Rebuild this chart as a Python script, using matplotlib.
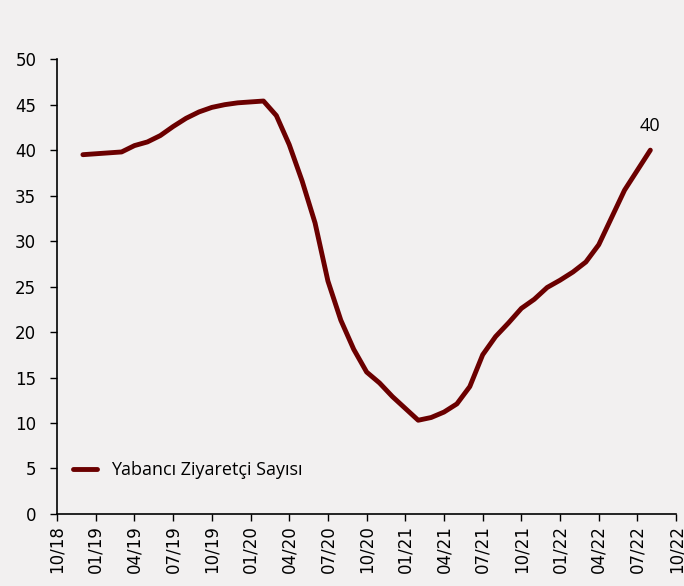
import matplotlib
matplotlib.use("Agg")
import matplotlib.pyplot as plt

# aylik seri, indeks 0 = 10/18
start_index = 2  # 12/18
values = [
    39.5, 39.6, 39.7, 39.8, 40.5, 40.9, 41.6, 42.6, 43.5, 44.2,
    44.7, 45.0, 45.2, 45.3, 45.4, 43.8, 40.6, 36.6, 32.0, 25.6,
    21.3, 18.1, 15.6, 14.4, 12.9, 11.6, 10.3, 10.6, 11.2, 12.1,
    14.0, 17.5, 19.5, 21.0, 22.6, 23.6, 24.9, 25.7, 26.6, 27.7,
    29.6, 32.6, 35.6, 37.8, 40.0,
]
tick_labels = [
    "10/18", "01/19", "04/19", "07/19", "10/19", "01/20", "04/20", "07/20",
    "10/20", "01/21", "04/21", "07/21", "10/21", "01/22", "04/22", "07/22", "10/22",
]
series_name = "Yabancı Ziyaretçi Sayısı"
end_label = "40"

bg = "#f2f0f0"
line_color = "#6b0000"

fig = plt.figure(figsize=(6.84, 5.86), dpi=100, facecolor=bg)
ax = fig.add_axes([0.0835, 0.123, 0.905, 0.776], facecolor=bg)

x = list(range(start_index, start_index + len(values)))
ax.plot(x, values, color=line_color, lw=3.5, solid_capstyle="round",
        solid_joinstyle="round", label=series_name)

ax.annotate(end_label, (x[-1], values[-1]), xytext=(0, 11),
            textcoords="offset points", ha="center", va="bottom",
            fontsize=13, family="Open Sans")

ax.set_xlim(0, 48)
ax.set_ylim(0, 50)
ax.set_xticks(range(0, 49, 3))
ax.set_xticklabels(tick_labels, rotation=90, fontsize=12)
ax.set_yticks(range(0, 51, 5))
ax.tick_params(axis="y", labelsize=12, length=5, width=1, pad=10)
ax.tick_params(axis="x", length=5, width=1, pad=3)

for side in ("top", "right"):
    ax.spines[side].set_visible(False)
for side in ("left", "bottom"):
    ax.spines[side].set_color("black")
    ax.spines[side].set_linewidth(1.2)

leg = ax.legend(loc="lower left", bbox_to_anchor=(0.0, 0.04), frameon=False,
                prop={"family": "Open Sans", "size": 13}, handlelength=1.3,
                handletextpad=0.8)

fig.savefig("out.png", dpi=100, facecolor=bg)
